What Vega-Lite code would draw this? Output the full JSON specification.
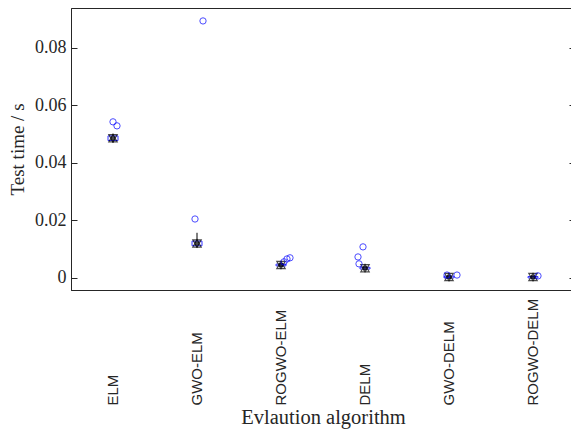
{
  "$schema": "https://vega.github.io/schema/vega-lite/v6.json",
  "width": 504,
  "height": 282,
  "autosize": {"type": "none"},
  "padding": {"left": 71, "top": 8, "right": 0, "bottom": 142},
  "background": "white",
  "config": {
    "view": {"stroke": "#262626", "strokeWidth": 1},
    "axis": {"domainColor": "#262626", "tickColor": "#262626", "labelColor": "#262626", "titleColor": "#262626", "grid": false}
  },
  "datasets": {
    "boxes": [
      {"algo": "ELM", "lo": 0.0470, "q1": 0.0478, "med": 0.0486, "q3": 0.0494, "hi": 0.0502},
      {"algo": "GWO-ELM", "lo": 0.0105, "q1": 0.0112, "med": 0.0120, "q3": 0.0128, "hi": 0.0157},
      {"algo": "ROGWO-ELM", "lo": 0.0038, "q1": 0.0042, "med": 0.0045, "q3": 0.0048, "hi": 0.0052},
      {"algo": "DELM", "lo": 0.0028, "q1": 0.0031, "med": 0.0034, "q3": 0.0037, "hi": 0.0041},
      {"algo": "GWO-DELM", "lo": -0.0003, "q1": 0.0000, "med": 0.0003, "q3": 0.0006, "hi": 0.0009},
      {"algo": "ROGWO-DELM", "lo": -0.0003, "q1": 0.0000, "med": 0.0003, "q3": 0.0005, "hi": 0.0008}
    ],
    "outliers": [
      {"algo": "ELM", "v": 0.0543, "dx": 0},
      {"algo": "ELM", "v": 0.0529, "dx": 4},
      {"algo": "GWO-ELM", "v": 0.0205, "dx": -2},
      {"algo": "GWO-ELM", "v": 0.0894, "dx": 6},
      {"algo": "ROGWO-ELM", "v": 0.0056, "dx": 3},
      {"algo": "ROGWO-ELM", "v": 0.0066, "dx": 6},
      {"algo": "ROGWO-ELM", "v": 0.0070, "dx": 9},
      {"algo": "DELM", "v": 0.0108, "dx": -2},
      {"algo": "DELM", "v": 0.0073, "dx": -7},
      {"algo": "DELM", "v": 0.0049, "dx": -6},
      {"algo": "GWO-DELM", "v": 0.0010, "dx": -2},
      {"algo": "GWO-DELM", "v": 0.0010, "dx": 8},
      {"algo": "ROGWO-DELM", "v": 0.0007, "dx": 5}
    ]
  },
  "encoding": {
    "x": {
      "field": "algo", "type": "nominal",
      "sort": ["ELM", "GWO-ELM", "ROGWO-ELM", "DELM", "GWO-DELM", "ROGWO-DELM"],
      "scale": {"paddingInner": 0, "paddingOuter": 0},
      "axis": {
        "title": "Evlaution algorithm",
        "titleFont": "Times New Roman, Liberation Serif, serif", "titleFontSize": 20.5, "titleFontWeight": "normal", "titlePadding": 2,
        "labelFont": "Arial, Liberation Sans, sans-serif", "labelFontSize": 15,
        "labelAngle": -90, "labelAlign": "left", "labelBaseline": "middle",
        "labelPadding": 115, "ticks": false, "domain": true
      }
    }
  },
  "layer": [
    {
      "data": {"name": "boxes"},
      "mark": {"type": "rule", "color": "black", "strokeWidth": 1},
      "encoding": {
        "y": {"field": "lo", "type": "quantitative",
          "scale": {"domain": [-0.0042, 0.0939], "nice": false, "zero": false},
          "axis": {
            "title": "Test time / s", "values": [0, 0.02, 0.04, 0.06, 0.08],
            "format": "~g",
            "titleFont": "Times New Roman, Liberation Serif, serif", "titleFontSize": 19, "titleFontWeight": "normal", "titlePadding": 7,
            "labelFont": "Times New Roman, Liberation Serif, serif", "labelFontSize": 18,
            "tickSize": -6, "labelPadding": 11
          }
        },
        "y2": {"field": "hi"}
      }
    },
    {
      "data": {"name": "boxes"},
      "mark": {"type": "bar", "fill": "white", "stroke": "#3333ff", "strokeWidth": 1, "width": 10},
      "encoding": {
        "y": {"field": "q1", "type": "quantitative"},
        "y2": {"field": "q3"}
      }
    },
    {
      "data": {"name": "boxes"},
      "mark": {"type": "point", "shape": "triangle-up", "filled": false, "color": "black", "size": 70, "strokeWidth": 1.2},
      "encoding": {"y": {"field": "med", "type": "quantitative"}}
    },
    {
      "data": {"name": "boxes"},
      "mark": {"type": "point", "shape": "triangle-down", "filled": false, "color": "black", "size": 70, "strokeWidth": 1.2},
      "encoding": {"y": {"field": "med", "type": "quantitative"}}
    },
    {
      "data": {"name": "boxes"},
      "mark": {"type": "point", "shape": "cross", "angle": 45, "filled": true, "color": "black", "size": 25},
      "encoding": {"y": {"field": "med", "type": "quantitative"}}
    },
    {
      "data": {"name": "outliers"},
      "mark": {"type": "point", "shape": "circle", "filled": false, "color": "#0000ff", "size": 40, "strokeWidth": 1},
      "encoding": {
        "y": {"field": "v", "type": "quantitative",
          "axis": {"orient": "right", "title": null, "labels": false, "values": [0, 0.02, 0.04, 0.06, 0.08], "tickSize": -6, "domain": false}
        },
        "xOffset": {"field": "dx", "type": "quantitative", "scale": {"domain": [-42, 42], "range": [0, 84]}}
      }
    }
  ],
  "resolve": {"axis": {"y": "independent"}}
}
